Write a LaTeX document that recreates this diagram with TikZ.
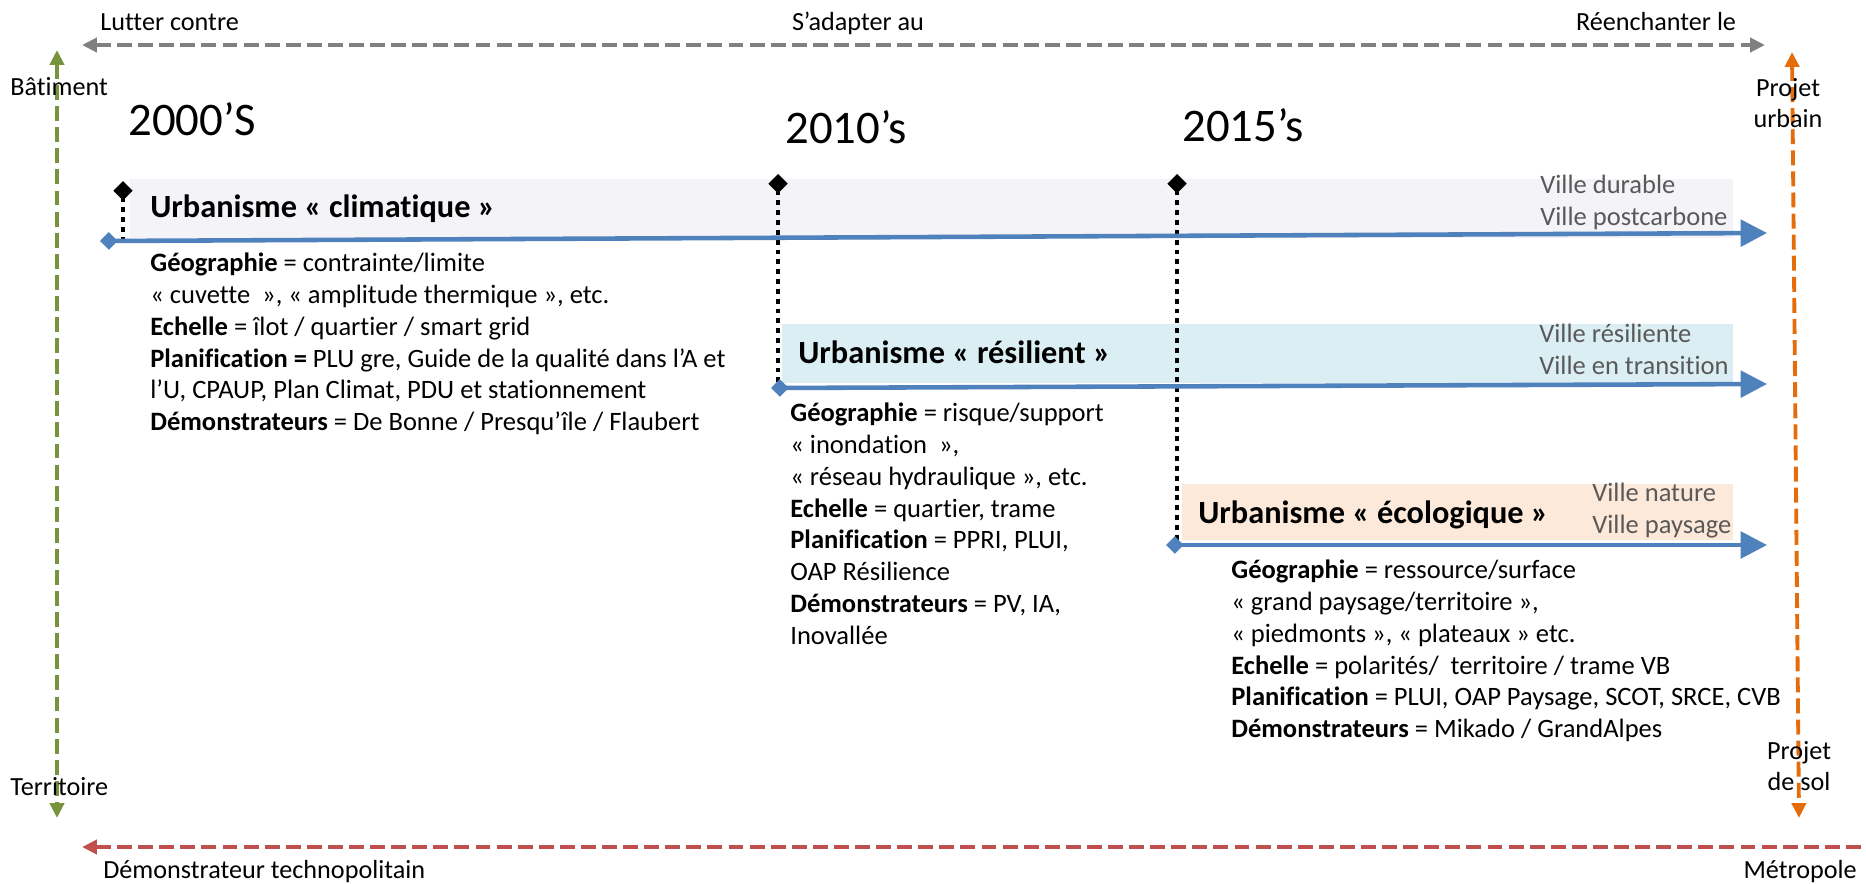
\documentclass[tikz,border=0pt]{standalone}
\usepackage{fontspec}
\setmainfont{Carlito}[Ligatures={TeX,NoCommon}]
\usetikzlibrary{arrows.meta}
\definecolor{axisgrey}{HTML}{808080}
\definecolor{axisgreen}{HTML}{77933C}
\definecolor{axisorange}{HTML}{E46C0A}
\definecolor{axisred}{HTML}{C0504D}
\definecolor{lineblue}{HTML}{4F81BD}
\definecolor{villegrey}{HTML}{595959}
\definecolor{boxclimat}{HTML}{F4F3F7}
\definecolor{boxresil}{HTML}{DAEEF3}
\definecolor{boxeco}{HTML}{FDE9D9}
\tikzset{
  axistip/.tip={Triangle[length=8.5pt,width=8pt]},
  axisline/.style={line width=2.2pt, dash pattern=on 8.5pt off 3.5pt},
  timeline/.style={draw=lineblue, line width=2.6pt,
    {Diamond[length=10pt,width=10pt]}-{Triangle[length=15pt,width=15pt]}},
  drop/.style={black, line width=2.3pt, dash pattern=on 2.8pt off 2.8pt,
    {Diamond[length=11pt,width=11pt]}-},
  lbl/.style={inner sep=0pt, font=\fontsize{14.9}{17.5}\selectfont},
  year/.style={inner sep=0pt, font=\fontsize{26.6}{30}\selectfont},
  head/.style={inner sep=0pt, font=\fontsize{18.4}{22}\selectfont\bfseries},
  body/.style={inner sep=0pt, align=left, anchor=north west,
    font=\fontsize{15.1}{18.1}\selectfont},
  ville/.style={body, text=villegrey}
}
\begin{document}
\begin{tikzpicture}[x=0.02cm,y=-0.02cm]
\fill[white] (0,0) rectangle (1866,883);
\useasboundingbox (0,0) rectangle (1866,883);

\fill[boxclimat] (130,179) rectangle (1733,238);
\fill[boxresil] (782,324) rectangle (1733,383);
\fill[boxeco] (1182,484) rectangle (1733,540);

\coordinate (gl) at (82,45);
\coordinate (gr) at (1765,45);
\coordinate (vt) at (57,50);
\coordinate (vb) at (57,818);
\coordinate (ot) at (1792,52);
\coordinate (ob) at (1799,818);
\coordinate (rl) at (82,847);
\coordinate (rr) at (1866,847);
\draw[axisline, axisgrey, axistip-axistip] (gl) -- (gr);
\draw[axisline, axisgreen, axistip-axistip] (vt) -- (vb);
\draw[axisline, axisorange, axistip-axistip] (ot) -- (ob);
\draw[axisline, axisred, axistip-] (rl) -- (rr);

\coordinate (d1t) at (123,181);
\coordinate (d1b) at (123,240);
\coordinate (d2t) at (778,174);
\coordinate (d2b) at (778,388);
\coordinate (d3t) at (1177,174);
\coordinate (d3b) at (1177,545);
\draw[drop] (d1t) -- (d1b);
\draw[drop] (d2t) -- (d2b);
\draw[drop] (d3t) -- (d3b);

\coordinate (t1s) at (100,241);
\coordinate (t1e) at (1767,233);
\coordinate (t2s) at (771,388);
\coordinate (t2e) at (1767,384);
\coordinate (t3s) at (1166,545);
\coordinate (t3e) at (1767,545);
\draw[timeline] (t1s) -- (t1e);
\draw[timeline] (t2s) -- (t2e);
\draw[timeline] (t3s) -- (t3e);

\node[lbl, anchor=base west] (lutter) at (100,30.5) {Lutter contre};
\node[lbl, anchor=base] (adapter) at (858,30.5) {S’adapter au};
\node[lbl, anchor=base] (reench) at (1656,30.5) {Réenchanter le};
\node[lbl, anchor=base west] (batiment) at (10,95.5) {Bâtiment};
\node[lbl, anchor=base west] (territoire) at (10,795.5) {Territoire};
\node[lbl, anchor=north, align=center] (projurb) at (1788,74.5) {\strut Projet\\urbain};
\node[lbl, anchor=north, align=center] (projsol) at (1799,738) {\strut Projet\\de sol};
\node[lbl, anchor=base east] (metro) at (1857,878.5) {Métropole};
\node[lbl, anchor=base west] (demotech) at (103,878.5) {Démonstrateur technopolitain};

\node[year, anchor=base west] (y2000) at (128,135) {2000’S};
\node[year, anchor=base west] (y2010) at (785,143) {2010’s};
\node[year, anchor=base west] (y2015) at (1182,141) {2015’s};

\node[head, anchor=base west] (climat) at (150,217) {Urbanisme « climatique »};
\node[head, anchor=base west] (resil) at (798,363) {Urbanisme « résilient »};
\node[head, anchor=base west] (eco) at (1198,523) {Urbanisme « écologique »};

\node[ville] (vclimat) at (1540,171) {\strut Ville durable\\Ville postcarbone};
\node[ville] (vresil) at (1539,320) {\strut Ville résiliente\\Ville en transition};
\node[ville] (veco) at (1592,479) {\strut Ville nature\\Ville paysage};

\node[body] (bclimat) at (150,249) {\strut\textbf{Géographie} = contrainte/limite\\
« cuvette~~», « amplitude thermique », etc.\\
\textbf{Echelle} = îlot / quartier / smart grid\\
\textbf{Planification =} PLU gre, Guide de la qualité dans l’A et\\
l’U, CPAUP, Plan Climat, PDU et stationnement\\
\textbf{Démonstrateurs} = De Bonne / Presqu’île / Flaubert};
\node[body] (bresil) at (790,399) {\strut\textbf{Géographie} = risque/support\\
« inondation~~»,\\
« réseau hydraulique », etc.\\
\textbf{Echelle} = quartier, trame\\
\textbf{Planification} = PPRI, PLUI,\\
OAP Résilience\\
\textbf{Démonstrateurs} = PV, IA,\\
Inovallée};
\node[body] (beco) at (1231,556) {\strut\textbf{Géographie} = ressource/surface\\
« grand paysage/territoire »,\\
« piedmonts », « plateaux » etc.\\
\textbf{Echelle} = polarités/~~territoire / trame VB\\
\textbf{Planification} = PLUI, OAP Paysage, SCOT, SRCE, CVB\\
\textbf{Démonstrateurs} = Mikado / GrandAlpes};
\end{tikzpicture}
\end{document}
